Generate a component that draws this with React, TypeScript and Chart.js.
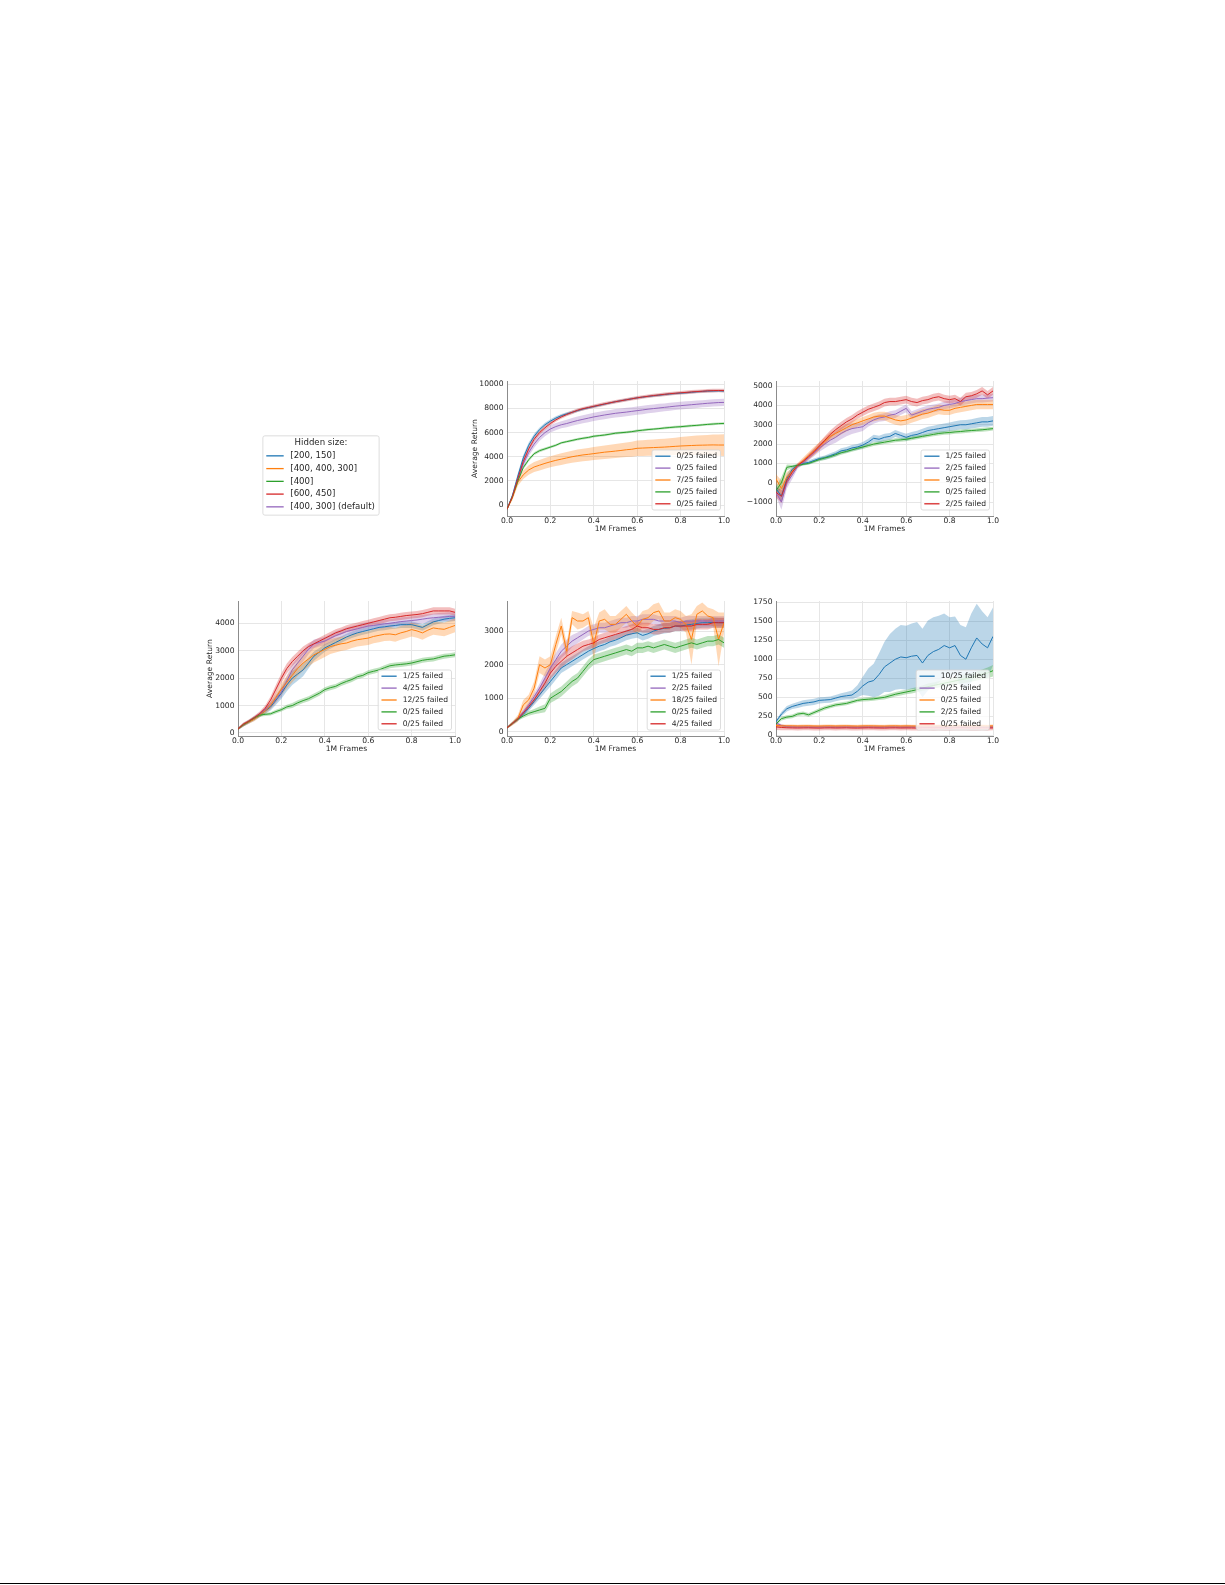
import { useEffect, useRef } from 'react';
import { Chart, registerables } from 'chart.js';
import type { Plugin, ChartConfiguration } from 'chart.js';

Chart.register(...registerables);

const FONT = '"DejaVu Sans", "Liberation Sans", sans-serif';
const INK = '#262626';
const GRID = '#e6e6e6';
const SPINE = '#8c8c8c';
const FS = 7.6;

const BLUE = '#1f77b4';
const ORANGE = '#ff7f0e';
const GREEN = '#2ca02c';
const RED = '#d62728';
const PURPLE = '#9467bd';

// evaluation points, millions of frames
const frames = [
  0, 0.025, 0.05, 0.075, 0.1, 0.125, 0.15, 0.175, 0.2, 0.225, 0.25, 0.275, 0.3, 0.325, 0.35, 0.375, 0.4, 0.425, 0.45,
  0.475, 0.5, 0.525, 0.55, 0.575, 0.6, 0.625, 0.65, 0.675, 0.7, 0.725, 0.75, 0.775, 0.8, 0.825, 0.85, 0.875, 0.9, 0.925,
  0.95, 0.975, 1.0,
];
const xTicks = [0, 0.2, 0.4, 0.6, 0.8, 1.0];

// shared legend
const hiddenSizes = ['[200, 150]', '[400, 400, 300]', '[400]', '[600, 450]', '[400, 300] (default)'];
const hiddenColors = [BLUE, ORANGE, GREEN, RED, PURPLE];

// every panel lists its series as blue, purple, orange, green, red
const seriesColors = [BLUE, PURPLE, ORANGE, GREEN, RED];

// ---- panel A (top middle)
const aTicks = [0, 2000, 4000, 6000, 8000, 10000];
const aFailed = ['0/25 failed', '0/25 failed', '7/25 failed', '0/25 failed', '0/25 failed'];
const aBlue = [-350, 800, 2400, 3900, 4950, 5700, 6250, 6650, 6950, 7200, 7400, 7550, 7680, 7820, 7950, 8060, 8160, 8260, 8360, 8460, 8560, 8640, 8720, 8800, 8880, 8940, 9000, 9050, 9100, 9150, 9200, 9240, 9270, 9300, 9340, 9380, 9410, 9440, 9450, 9460, 9450];
const aBlueSd = [50, 150, 250, 250, 220, 200, 180, 170, 160, 150, 140, 130, 120, 120, 110, 110, 110, 100, 100, 100, 100, 100, 100, 100, 100, 100, 100, 100, 100, 100, 100, 100, 100, 100, 100, 100, 100, 100, 100, 100, 100];
const aPurple = [-350, 700, 2100, 3400, 4350, 5050, 5600, 6000, 6300, 6500, 6650, 6750, 6880, 7000, 7100, 7200, 7300, 7380, 7460, 7530, 7600, 7650, 7700, 7760, 7820, 7880, 7940, 7990, 8040, 8090, 8140, 8190, 8230, 8270, 8310, 8350, 8390, 8430, 8460, 8490, 8500];
const aPurpleSd = [50, 150, 250, 300, 300, 300, 300, 300, 300, 300, 300, 310, 320, 330, 330, 340, 340, 340, 350, 350, 350, 350, 350, 350, 350, 350, 340, 340, 340, 330, 330, 320, 320, 320, 310, 310, 300, 300, 300, 300, 300];
const aOrange = [-350, 600, 1900, 2500, 2900, 3150, 3300, 3450, 3580, 3700, 3800, 3900, 4000, 4080, 4150, 4200, 4260, 4320, 4380, 4420, 4470, 4520, 4580, 4620, 4700, 4720, 4740, 4760, 4780, 4800, 4830, 4860, 4890, 4910, 4930, 4950, 4960, 4970, 4980, 4970, 4970];
const aOrangeSd = [50, 200, 300, 350, 400, 420, 440, 450, 460, 470, 480, 490, 500, 510, 520, 530, 540, 550, 560, 570, 580, 590, 600, 620, 640, 650, 660, 670, 690, 700, 710, 720, 740, 760, 780, 800, 820, 840, 860, 880, 900];
const aGreen = [-350, 700, 2000, 3100, 3750, 4250, 4500, 4650, 4800, 4950, 5150, 5250, 5350, 5450, 5530, 5600, 5700, 5750, 5800, 5870, 5950, 5990, 6030, 6080, 6150, 6200, 6250, 6290, 6330, 6380, 6420, 6460, 6490, 6530, 6570, 6600, 6640, 6680, 6710, 6740, 6760];
const aGreenSd = [50, 120, 150, 150, 150, 130, 120, 110, 100, 100, 100, 100, 100, 100, 100, 100, 100, 100, 100, 100, 100, 100, 100, 100, 100, 100, 100, 100, 100, 100, 100, 100, 100, 100, 100, 100, 100, 100, 100, 100, 100];
const aRed = [-350, 700, 2200, 3600, 4650, 5450, 6000, 6400, 6750, 7050, 7300, 7500, 7680, 7850, 7980, 8080, 8180, 8280, 8380, 8470, 8560, 8640, 8720, 8800, 8880, 8950, 9010, 9070, 9120, 9170, 9220, 9260, 9300, 9330, 9370, 9400, 9430, 9460, 9480, 9490, 9480];
const aRedSd = [50, 150, 250, 250, 220, 200, 180, 170, 160, 150, 150, 150, 150, 150, 150, 150, 150, 150, 150, 150, 150, 150, 150, 150, 150, 150, 150, 150, 150, 150, 150, 150, 150, 150, 150, 150, 150, 150, 150, 150, 150];

// ---- panel B (top right)
const bTicks = [-1000, 0, 1000, 2000, 3000, 4000, 5000];
const bFailed = ['1/25 failed', '2/25 failed', '9/25 failed', '0/25 failed', '2/25 failed'];
const bBlue = [-300, -700, 200, 700, 900, 1000, 1050, 1150, 1250, 1300, 1400, 1500, 1650, 1700, 1800, 1850, 1950, 2100, 2300, 2250, 2350, 2400, 2550, 2450, 2350, 2450, 2500, 2600, 2700, 2750, 2800, 2850, 2900, 2950, 3000, 3000, 3050, 3100, 3150, 3150, 3200];
const bBlueSd = [150, 300, 250, 150, 100, 100, 100, 100, 100, 110, 120, 130, 140, 150, 150, 150, 160, 170, 180, 180, 180, 180, 180, 180, 180, 180, 190, 200, 200, 200, 210, 220, 220, 230, 230, 240, 240, 250, 250, 250, 250];
const bPurple = [-500, -1000, 0, 400, 850, 1050, 1300, 1550, 1800, 2000, 2200, 2350, 2550, 2700, 2800, 2850, 2900, 3100, 3250, 3350, 3400, 3500, 3550, 3700, 3850, 3500, 3600, 3700, 3800, 3850, 3900, 4000, 4050, 4100, 4200, 4250, 4300, 4350, 4350, 4380, 4400];
const bPurpleSd = [200, 400, 300, 200, 120, 120, 150, 180, 200, 220, 250, 280, 300, 300, 280, 250, 220, 200, 200, 200, 200, 200, 200, 200, 200, 200, 200, 200, 200, 200, 200, 200, 200, 200, 200, 200, 200, 200, 200, 200, 200];
const bOrange = [200, -300, 300, 600, 900, 1150, 1400, 1650, 1900, 2150, 2400, 2550, 2700, 2850, 3000, 3100, 3200, 3300, 3400, 3450, 3450, 3350, 3250, 3200, 3250, 3350, 3450, 3550, 3600, 3700, 3800, 3750, 3750, 3850, 3900, 3950, 4000, 4050, 4050, 4050, 4050];
const bOrangeSd = [250, 400, 250, 150, 120, 150, 180, 200, 200, 200, 200, 200, 200, 200, 200, 200, 200, 200, 220, 220, 220, 250, 250, 250, 250, 250, 250, 250, 250, 250, 250, 250, 250, 250, 250, 250, 250, 250, 250, 250, 250];
const bGreen = [-400, 0, 800, 850, 900, 950, 1000, 1100, 1200, 1280, 1350, 1450, 1550, 1620, 1700, 1780, 1850, 1920, 2000, 2050, 2100, 2150, 2200, 2220, 2250, 2300, 2350, 2400, 2450, 2500, 2550, 2580, 2600, 2630, 2650, 2680, 2700, 2720, 2740, 2770, 2800];
const bGreenSd = [200, 300, 150, 80, 60, 60, 70, 80, 90, 100, 100, 100, 100, 100, 100, 100, 100, 100, 100, 100, 100, 100, 100, 100, 100, 100, 100, 100, 100, 100, 100, 100, 100, 100, 100, 100, 100, 100, 100, 100, 100];
const bRed = [-500, -700, 100, 550, 900, 1100, 1350, 1600, 1900, 2200, 2500, 2750, 2950, 3150, 3300, 3500, 3650, 3800, 3900, 4000, 4150, 4200, 4200, 4250, 4300, 4200, 4150, 4250, 4300, 4400, 4450, 4350, 4300, 4350, 4200, 4450, 4500, 4600, 4750, 4550, 4750];
const bRedSd = [250, 350, 250, 150, 100, 120, 150, 170, 190, 200, 200, 200, 200, 200, 200, 200, 200, 200, 200, 200, 200, 200, 200, 200, 200, 200, 200, 200, 200, 200, 200, 200, 200, 200, 200, 200, 200, 200, 200, 200, 200];

// ---- panel C (bottom left)
const cTicks = [0, 1000, 2000, 3000, 4000];
const cFailed = ['1/25 failed', '4/25 failed', '12/25 failed', '0/25 failed', '0/25 failed'];
const cBlue = [150, 300, 400, 520, 650, 800, 950, 1200, 1450, 1750, 2000, 2150, 2300, 2550, 2800, 2950, 3100, 3200, 3300, 3400, 3500, 3580, 3650, 3700, 3750, 3800, 3850, 3870, 3900, 3920, 3950, 3950, 3950, 3900, 3850, 3950, 4050, 4100, 4150, 4180, 4200];
const cBlueSd = [40, 60, 60, 70, 80, 100, 130, 170, 200, 230, 250, 250, 230, 200, 170, 150, 140, 130, 130, 120, 120, 120, 120, 120, 120, 120, 120, 120, 120, 120, 120, 120, 120, 120, 120, 120, 120, 120, 120, 120, 120];
const cPurple = [150, 300, 420, 550, 680, 850, 1000, 1250, 1500, 1900, 2300, 2550, 2800, 3050, 3250, 3300, 3350, 3450, 3550, 3620, 3700, 3750, 3800, 3850, 3900, 3920, 3950, 3980, 4000, 4030, 4060, 4080, 4100, 4120, 4150, 4180, 4200, 4220, 4230, 4250, 4250];
const cPurpleSd = [40, 60, 60, 70, 80, 100, 120, 150, 180, 200, 200, 200, 200, 180, 160, 150, 150, 150, 150, 150, 150, 150, 150, 150, 150, 150, 150, 150, 150, 150, 150, 150, 150, 150, 150, 150, 150, 150, 150, 150, 150];
const cOrange = [150, 300, 400, 500, 650, 800, 1000, 1300, 1600, 1850, 2100, 2350, 2550, 2700, 2850, 2950, 3050, 3150, 3200, 3250, 3280, 3350, 3400, 3430, 3460, 3520, 3560, 3600, 3610, 3580, 3650, 3700, 3770, 3720, 3650, 3750, 3830, 3800, 3780, 3850, 3920];
const cOrangeSd = [40, 60, 60, 70, 80, 100, 130, 170, 200, 230, 250, 270, 280, 280, 280, 280, 280, 270, 270, 260, 250, 250, 250, 250, 250, 250, 250, 250, 250, 250, 250, 250, 250, 250, 250, 250, 250, 250, 250, 250, 250];
const cGreen = [150, 300, 420, 550, 650, 680, 700, 780, 850, 950, 1000, 1100, 1180, 1250, 1350, 1450, 1580, 1650, 1700, 1800, 1880, 1950, 2050, 2100, 2200, 2250, 2300, 2380, 2450, 2480, 2500, 2520, 2550, 2600, 2650, 2680, 2700, 2750, 2800, 2820, 2850];
const cGreenSd = [40, 50, 50, 50, 60, 60, 60, 70, 70, 80, 90, 90, 90, 90, 90, 90, 90, 90, 90, 90, 90, 90, 90, 90, 90, 90, 90, 90, 90, 90, 90, 90, 90, 90, 90, 90, 90, 90, 90, 90, 90];
const cRed = [150, 320, 430, 560, 700, 900, 1200, 1600, 2000, 2350, 2600, 2800, 3000, 3150, 3250, 3350, 3450, 3550, 3650, 3720, 3800, 3850, 3900, 3950, 4000, 4050, 4100, 4150, 4200, 4220, 4250, 4280, 4300, 4320, 4350, 4400, 4450, 4450, 4450, 4450, 4400];
const cRedSd = [40, 60, 60, 70, 80, 100, 130, 160, 180, 180, 170, 160, 150, 130, 130, 130, 130, 130, 130, 130, 130, 130, 130, 130, 130, 130, 130, 130, 130, 130, 130, 130, 130, 130, 130, 130, 130, 130, 130, 130, 130];

// ---- panel D (bottom middle)
const dTicks = [0, 1000, 2000, 3000];
const dFailed = ['1/25 failed', '2/25 failed', '18/25 failed', '0/25 failed', '4/25 failed'];
const dBlue = [120, 250, 370, 520, 700, 900, 1100, 1300, 1500, 1700, 1900, 2000, 2100, 2200, 2300, 2400, 2480, 2550, 2600, 2680, 2730, 2800, 2880, 2920, 2950, 2870, 2920, 3000, 3050, 3080, 3100, 3150, 3150, 3180, 3200, 3230, 3250, 3250, 3260, 3250, 3250];
const dBlueSd = [30, 40, 50, 60, 80, 100, 120, 140, 150, 150, 150, 150, 150, 150, 150, 150, 150, 150, 150, 150, 150, 150, 150, 150, 150, 150, 150, 150, 150, 150, 150, 150, 150, 150, 150, 150, 150, 150, 150, 150, 150];
const dPurple = [120, 250, 400, 600, 800, 1050, 1300, 1600, 1900, 2150, 2400, 2550, 2700, 2800, 2900, 3000, 3050, 3100, 3100, 3150, 3200, 3250, 3250, 3300, 3300, 3350, 3350, 3350, 3300, 3300, 3300, 3300, 3250, 3300, 3300, 3300, 3300, 3300, 3300, 3300, 3300];
const dPurpleSd = [30, 40, 50, 60, 80, 100, 130, 160, 180, 200, 200, 200, 180, 160, 150, 150, 150, 150, 150, 150, 150, 150, 150, 150, 150, 150, 150, 150, 150, 150, 150, 150, 150, 150, 150, 150, 150, 150, 150, 150, 150];
const dOrange = [120, 250, 400, 800, 950, 1300, 2000, 1900, 2000, 2600, 3150, 2400, 3400, 3300, 3300, 3400, 2600, 3300, 3350, 3200, 3200, 3350, 3500, 3300, 3150, 3350, 3400, 3550, 3600, 3300, 3300, 3400, 3350, 3200, 2750, 3500, 3600, 3450, 3400, 2750, 3250];
const dOrangeSd = [30, 60, 100, 150, 150, 200, 250, 250, 250, 250, 250, 250, 200, 250, 200, 200, 500, 250, 300, 250, 250, 250, 250, 250, 250, 250, 250, 250, 250, 250, 250, 250, 250, 250, 750, 250, 250, 250, 250, 800, 300];
const dGreen = [120, 250, 380, 470, 550, 600, 650, 700, 1000, 1100, 1200, 1350, 1500, 1600, 1800, 2000, 2150, 2200, 2250, 2300, 2350, 2400, 2450, 2400, 2500, 2500, 2550, 2500, 2550, 2600, 2550, 2500, 2550, 2600, 2650, 2600, 2650, 2700, 2700, 2750, 2650];
const dGreenSd = [30, 40, 50, 60, 70, 80, 100, 120, 140, 150, 150, 150, 150, 150, 150, 150, 150, 150, 150, 150, 150, 150, 150, 150, 150, 150, 150, 150, 150, 150, 150, 150, 150, 150, 150, 150, 150, 150, 150, 150, 150];
const dRed = [120, 250, 380, 560, 750, 950, 1200, 1450, 1750, 1950, 2100, 2250, 2350, 2450, 2550, 2600, 2650, 2750, 2800, 2850, 2900, 2950, 3000, 3050, 3150, 3100, 3100, 3050, 3050, 3100, 3100, 3150, 3150, 3150, 3150, 3200, 3200, 3200, 3250, 3250, 3250];
const dRedSd = [30, 40, 50, 60, 80, 100, 130, 160, 180, 200, 200, 200, 200, 180, 160, 150, 150, 150, 150, 150, 150, 150, 150, 150, 150, 150, 150, 150, 150, 150, 150, 150, 150, 150, 150, 150, 150, 150, 150, 150, 150];

// ---- panel E (bottom right)
const eTicks = [0, 250, 500, 750, 1000, 1250, 1500, 1750];
const eFailed = ['10/25 failed', '0/25 failed', '0/25 failed', '2/25 failed', '0/25 failed'];
const eBlue = [180, 280, 350, 380, 400, 420, 430, 440, 460, 465, 470, 490, 510, 520, 530, 580, 650, 700, 720, 800, 900, 950, 1000, 1030, 1020, 1040, 1050, 950, 1050, 1100, 1130, 1180, 1150, 1180, 1050, 1000, 1150, 1280, 1200, 1150, 1300];
const eBlueSd = [20, 30, 35, 35, 40, 40, 40, 40, 40, 40, 40, 40, 45, 50, 60, 80, 120, 180, 220, 280, 330, 380, 400, 420, 420, 430, 440, 450, 460, 450, 440, 420, 400, 380, 400, 420, 450, 450, 430, 400, 380];
const ePurple = [165, 130, 115, 112, 110, 111, 110, 109, 110, 111, 110, 109, 110, 111, 110, 109, 110, 111, 110, 109, 110, 111, 110, 109, 110, 111, 110, 109, 110, 111, 110, 109, 110, 111, 110, 109, 110, 111, 110, 109, 110];
const ePurpleSd = [20, 15, 15, 15, 15, 15, 15, 15, 15, 15, 15, 15, 15, 15, 15, 15, 15, 15, 15, 15, 15, 15, 15, 15, 15, 15, 15, 15, 15, 15, 15, 15, 15, 15, 15, 15, 15, 15, 15, 15, 15];
const eOrange = [130, 126, 124, 125, 123, 124, 125, 123, 122, 124, 125, 123, 124, 125, 123, 122, 124, 125, 124, 123, 122, 124, 125, 123, 124, 123, 122, 124, 125, 123, 124, 123, 122, 124, 125, 124, 123, 122, 124, 123, 124];
const eOrangeSd = [20, 18, 18, 18, 18, 18, 18, 18, 18, 18, 18, 18, 18, 18, 18, 18, 18, 18, 18, 18, 18, 18, 18, 18, 18, 18, 18, 18, 18, 18, 18, 18, 18, 18, 18, 18, 18, 18, 18, 18, 18];
const eGreen = [150, 220, 240, 250, 280, 290, 270, 300, 330, 360, 380, 400, 410, 420, 440, 460, 470, 475, 480, 490, 500, 520, 540, 555, 570, 585, 600, 620, 640, 655, 670, 685, 700, 715, 730, 745, 760, 780, 800, 820, 850];
const eGreenSd = [20, 25, 25, 25, 25, 25, 25, 25, 25, 25, 25, 25, 25, 25, 25, 25, 25, 25, 25, 25, 30, 30, 30, 30, 30, 35, 35, 35, 40, 40, 40, 45, 45, 50, 50, 55, 55, 60, 65, 70, 75];
const eRed = [112, 104, 100, 98, 97, 98, 99, 97, 96, 98, 99, 97, 98, 99, 97, 96, 98, 99, 98, 97, 96, 98, 99, 97, 98, 97, 96, 98, 99, 97, 98, 97, 96, 98, 99, 98, 97, 96, 98, 97, 98];
const eRedSd = [40, 35, 32, 32, 32, 32, 32, 32, 32, 32, 32, 32, 32, 32, 32, 32, 32, 32, 32, 32, 32, 32, 32, 32, 32, 32, 32, 32, 32, 32, 32, 32, 32, 32, 32, 32, 32, 32, 32, 32, 32];

// plot box geometry (page pixels)
const AX_W = 217;
const AX_H = 135;
const Y_BOX = 50;
const PAD_T = 10;
const PAD_R = 10;
const X_BOX = 22;

interface PanelCfg {
  key: string;
  axLeft: number;
  axTop: number;
  yMin: number;
  yMax: number;
  yTicks: number[];
  yTitleGap: number;
  failed: string[];
  means: number[][];
  spreads: number[][];
}

const panels: PanelCfg[] = [
  { key: 'a', axLeft: 507, axTop: 381, yMin: -910, yMax: 10275, yTicks: aTicks, yTitleGap: 32, failed: aFailed,
    means: [aBlue, aPurple, aOrange, aGreen, aRed], spreads: [aBlueSd, aPurpleSd, aOrangeSd, aGreenSd, aRedSd] },
  { key: 'b', axLeft: 776, axTop: 381, yMin: -1720, yMax: 5264, yTicks: bTicks, yTitleGap: 0, failed: bFailed,
    means: [bBlue, bPurple, bOrange, bGreen, bRed], spreads: [bBlueSd, bPurpleSd, bOrangeSd, bGreenSd, bRedSd] },
  { key: 'c', axLeft: 238, axTop: 601, yMin: -110, yMax: 4812, yTicks: cTicks, yTitleGap: 28, failed: cFailed,
    means: [cBlue, cPurple, cOrange, cGreen, cRed], spreads: [cBlueSd, cPurpleSd, cOrangeSd, cGreenSd, cRedSd] },
  { key: 'd', axLeft: 507, axTop: 601, yMin: -125, yMax: 3896, yTicks: dTicks, yTitleGap: 0, failed: dFailed,
    means: [dBlue, dPurple, dOrange, dGreen, dRed], spreads: [dBlueSd, dPurpleSd, dOrangeSd, dGreenSd, dRedSd] },
  { key: 'e', axLeft: 776, axTop: 601, yMin: -8, yMax: 1765, yTicks: eTicks, yTitleGap: 0, failed: eFailed,
    means: [eBlue, ePurple, eOrange, eGreen, eRed], spreads: [eBlueSd, ePurpleSd, eOrangeSd, eGreenSd, eRedSd] },
];

interface LegendSpec {
  items: { label: string; color: string }[];
  title?: string;
  size: number;
  rowH: number;
  padTop: number;
  titleH: number;
  padBottom: number;
  lineX0: number;
  lineX1: number;
  textX: number;
  padRight: number;
  place: 'corner' | 'center';
  insetR: number;
  insetB: number;
}

// matplotlib-style framed legend drawn on the chart canvas
function boxLegend(spec: LegendSpec): Plugin<'line'> {
  return {
    id: 'boxLegend',
    afterDraw(chart) {
      const { ctx, chartArea } = chart;
      ctx.save();
      ctx.font = `${spec.size}px ${FONT}`;
      const textW = Math.max(...spec.items.map((it) => ctx.measureText(it.label).width));
      const titleW = spec.title ? ctx.measureText(spec.title).width : 0;
      const w = Math.max(spec.textX + textW + spec.padRight, titleW + 2 * spec.padRight);
      const titleH = spec.title ? spec.titleH : 0;
      const h = spec.padTop + titleH + (spec.items.length - 1) * spec.rowH + spec.padBottom;
      const x = spec.place === 'center' ? (chart.width - w) / 2 : chartArea.right - spec.insetR - w;
      const y = spec.place === 'center' ? (chart.height - h) / 2 : chartArea.bottom - spec.insetB - h;

      ctx.beginPath();
      ctx.roundRect(x, y, w, h, 2);
      ctx.fillStyle = 'rgba(255,255,255,0.8)';
      ctx.fill();
      ctx.lineWidth = 0.8;
      ctx.strokeStyle = '#d4d4d4';
      ctx.stroke();

      ctx.textBaseline = 'middle';
      if (spec.title) {
        ctx.textAlign = 'center';
        ctx.fillStyle = INK;
        ctx.fillText(spec.title, x + w / 2, y + spec.padTop);
      }
      ctx.textAlign = 'left';
      spec.items.forEach((it, i) => {
        const cy = y + spec.padTop + titleH + i * spec.rowH;
        ctx.beginPath();
        ctx.moveTo(x + spec.lineX0, cy);
        ctx.lineTo(x + spec.lineX1, cy);
        ctx.strokeStyle = it.color;
        ctx.lineWidth = 1.3;
        ctx.stroke();
        ctx.fillStyle = INK;
        ctx.fillText(it.label, x + spec.textX, cy);
      });
      ctx.restore();
    },
  };
}

const withAlpha = (hex: string, a: number) => {
  const n = parseInt(hex.slice(1), 16);
  return `rgba(${(n >> 16) & 255}, ${(n >> 8) & 255}, ${n & 255}, ${a})`;
};

const fmtY = (v: number) => (v < 0 ? '\u2212' + Math.abs(v) : String(v));

function panelConfig(p: PanelCfg): ChartConfiguration<'line'> {
  const pts = (vals: number[]) => frames.map((x, i) => ({ x, y: vals[i] }));
  const datasets: any[] = [];
  p.means.forEach((mean, i) => {
    const sd = p.spreads[i];
    const color = seriesColors[i];
    const rank = seriesColors.length - i; // later series sit on top
    datasets.push(
      { data: pts(mean.map((m, j) => m - sd[j])), borderColor: 'rgba(0,0,0,0)', borderWidth: 0, pointRadius: 0, fill: false, order: 20 + rank },
      { data: pts(mean.map((m, j) => m + sd[j])), borderColor: 'rgba(0,0,0,0)', borderWidth: 0, pointRadius: 0, fill: '-1', backgroundColor: withAlpha(color, 0.3), order: 20 + rank },
      { data: pts(mean), borderColor: color, borderWidth: 1, pointRadius: 0, fill: false, order: rank },
    );
  });

  const font = { family: FONT, size: FS };
  const half = (FS * 1.2) / 2;

  return {
    type: 'line',
    data: { datasets },
    plugins: [
      boxLegend({
        items: p.failed.map((label, i) => ({ label, color: seriesColors[i] })),
        size: FS, rowH: 11.9, padTop: 6.2, titleH: 0, padBottom: 6.2,
        lineX0: 3.3, lineX1: 18.5, textX: 24.5, padRight: 3.5,
        place: 'corner', insetR: 3.5, insetB: 6,
      }),
    ],
    options: {
      animation: false,
      responsive: true,
      maintainAspectRatio: false,
      events: [],
      layout: { padding: { left: 0, top: PAD_T, right: PAD_R, bottom: 0 } },
      plugins: { legend: { display: false }, tooltip: { enabled: false } },
      scales: {
        x: {
          type: 'linear',
          min: 0,
          max: 1,
          afterBuildTicks: (s: any) => { s.ticks = xTicks.map((v) => ({ value: v })); },
          afterFit: (s: any) => { s.height = X_BOX; },
          grid: { color: GRID, lineWidth: 1, drawTicks: false },
          border: { display: true, color: SPINE, width: 1 },
          ticks: { font, color: INK, padding: 0.5, maxRotation: 0, autoSkip: false, callback: (v: any) => Number(v).toFixed(1) },
          title: { display: true, text: '1M Frames', font, color: INK, padding: { top: 0, bottom: 8.5 - half } },
        },
        y: {
          type: 'linear',
          min: p.yMin,
          max: p.yMax,
          afterBuildTicks: (s: any) => { s.ticks = p.yTicks.map((v) => ({ value: v })); },
          afterFit: (s: any) => { s.width = Y_BOX; },
          grid: { color: GRID, lineWidth: 1, drawTicks: false },
          border: { display: true, color: SPINE, width: 1 },
          ticks: { font, color: INK, padding: 3.5, autoSkip: false, callback: (v: any) => fmtY(Number(v)) },
          title: {
            display: p.yTitleGap > 0,
            text: 'Average Return',
            font,
            color: INK,
            padding: { top: Y_BOX - p.yTitleGap - half, bottom: 0 },
          },
        },
      },
    },
  } as ChartConfiguration<'line'>;
}

function CurvePanel({ panel }: { panel: PanelCfg }) {
  const canvasRef = useRef<HTMLCanvasElement | null>(null);

  useEffect(() => {
    if (!canvasRef.current) return;
    const chart = new Chart(canvasRef.current, panelConfig(panel));
    return () => chart.destroy();
  }, [panel]);

  return (
    <div
      style={{
        position: 'absolute',
        left: panel.axLeft - Y_BOX,
        top: panel.axTop - PAD_T,
        width: AX_W + Y_BOX + PAD_R,
        height: AX_H + PAD_T + X_BOX,
      }}
    >
      <canvas ref={canvasRef} />
    </div>
  );
}

function HiddenSizeLegend() {
  const canvasRef = useRef<HTMLCanvasElement | null>(null);

  useEffect(() => {
    if (!canvasRef.current) return;
    const chart = new Chart(canvasRef.current, {
      type: 'line',
      data: { datasets: [] },
      plugins: [
        boxLegend({
          items: hiddenSizes.map((label, i) => ({ label, color: hiddenColors[i] })),
          title: 'Hidden size:',
          size: 8.6, rowH: 12.75, padTop: 7, titleH: 13, padBottom: 8.3,
          lineX0: 3.4, lineX1: 20.8, textX: 27.4, padRight: 4.2,
          place: 'center', insetR: 0, insetB: 0,
        }),
      ],
      options: {
        animation: false,
        responsive: true,
        maintainAspectRatio: false,
        events: [],
        layout: { padding: 0 },
        plugins: { legend: { display: false }, tooltip: { enabled: false } },
        scales: { x: { display: false }, y: { display: false } },
      },
    });
    return () => chart.destroy();
  }, []);

  return (
    <div style={{ position: 'absolute', left: 241, top: 395, width: 160, height: 161 }}>
      <canvas ref={canvasRef} />
    </div>
  );
}

export default function App() {
  return (
    <div style={{ position: 'absolute', left: 0, top: 0, width: 1225, height: 1585, background: '#fff', overflow: 'hidden' }}>
      <HiddenSizeLegend />
      {panels.map((p) => (
        <CurvePanel key={p.key} panel={p} />
      ))}
      <div style={{ position: 'absolute', left: 0, top: 1583, width: 1225, height: 1, background: '#000' }} />
    </div>
  );
}
